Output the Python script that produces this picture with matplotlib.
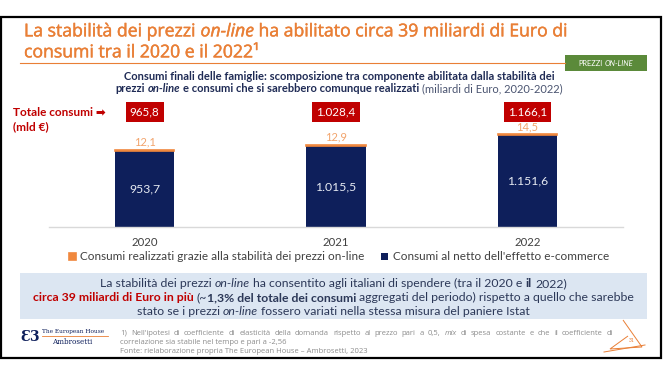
import matplotlib
matplotlib.use("Agg")
import matplotlib.pyplot as plt
from matplotlib.patches import Rectangle, Polygon
from matplotlib.lines import Line2D
import matplotlib.patheffects as pe
import numpy as np

# ---------------- data ----------------
years = ["2020", "2021", "2022"]
base_values = [953.7, 1015.5, 1151.6]      # Consumi al netto dell'effetto e-commerce
online_values = [12.1, 12.9, 14.5]         # Consumi realizzati grazie alla stabilità dei prezzi on-line
total_values = [965.8, 1028.4, 1166.1]     # Totale consumi (mld €)

series_names = ["Consumi realizzati grazie alla stabilità dei prezzi on-line",
                "Consumi al netto dell'effetto e-commerce"]

# ---------------- style ----------------
W, H = 670, 377
ORANGE_T = "#E97F36"
ORANGE_BAR = "#F0883E"
ORANGE_LBL = "#F2A46C"
NAVY = "#0E1F5B"
NAVY_TXT = "#1F2B55"
RED = "#C00000"
GREEN = "#5B8A3A"
GRAY = "#404040"
FONT = "Lato"
TFONT = "Open Sans"

plt.rcParams["font.family"] = [FONT, "DejaVu Sans"]

fig = plt.figure(figsize=(W / 100, H / 100), dpi=100)
fig.patch.set_facecolor("white")


def fx(x):
    return x / W


def fy(y):
    return 1 - y / H


renderer = fig.canvas.get_renderer()


def twidth(s, size, weight="normal", style="normal", family=FONT):
    t = fig.text(0, 0, s, fontsize=size, fontweight=weight, fontstyle=style, family=family)
    w = t.get_window_extent(renderer).width
    t.remove()
    return w


def base_y(yc, size):
    # convert a visual centre (px) into a baseline position (px)
    return yc + 0.36 * size * 100 / 72


def rich_line(parts, xc, y, size, family=FONT, ha="center", effects=None):
    """parts: list of (text, color, weight, style)"""
    items = []
    total = 0
    for text, color, weight, style in parts:
        lead = len(text) - len(text.lstrip(" "))
        trail = len(text) - len(text.rstrip(" "))
        core = text.strip(" ")
        sp = twidth("a a", size, weight, style, family) - twidth("aa", size, weight, style, family)
        wcore = twidth(core, size, weight, style, family) if core else 0
        items.append((total + lead * sp, core, color, weight, style))
        total += lead * sp + wcore + trail * sp
    x0 = xc - total / 2 if ha == "center" else xc
    yb = base_y(y, size)
    for off, core, color, weight, style in items:
        if core:
            t = fig.text(fx(x0 + off), fy(yb), core, fontsize=size, fontweight=weight,
                         fontstyle=style, color=color, family=family, va="baseline", ha="left")
            if effects:
                t.set_path_effects(effects)


def justified_line(words, x0, x1, y, size, color, family=FONT):
    """words: list of (word, style)"""
    widths = [twidth(w, size, "normal", st, family) for w, st in words]
    gap = (x1 - x0 - sum(widths)) / (len(words) - 1)
    x = x0
    yb = base_y(y, size)
    for (w, st), wd in zip(words, widths):
        fig.text(fx(x), fy(yb), w, fontsize=size, fontstyle=st, color=color, family=family,
                 va="baseline", ha="left")
        x += wd + gap


# ---------------- frame ----------------
fig.add_artist(Rectangle((fx(1), fy(358)), fx(661) - fx(1), fy(17) - fy(358),
                         transform=fig.transFigure, fill=False, edgecolor="black", lw=1.6))

# ---------------- title ----------------
teff = [pe.withStroke(linewidth=0.3, foreground=ORANGE_T)]
TS = 12.7
rich_line([("La stabilità dei prezzi ", ORANGE_T, "normal", "normal"),
           ("on-line", ORANGE_T, "normal", "italic"),
           (" ha abilitato circa 39 miliardi di Euro di", ORANGE_T, "normal", "normal")],
          24, 30, TS, family=TFONT, ha="left", effects=teff)
rich_line([("consumi tra il 2020 e il 2022¹", ORANGE_T, "normal", "normal")],
          24, 51, TS, family=TFONT, ha="left", effects=teff)
fig.add_artist(Line2D([fx(20), fx(565)], [fy(63), fy(63)], transform=fig.transFigure,
                      color=ORANGE_T, lw=0.8))
fig.add_artist(Rectangle((fx(565), fy(71)), fx(647) - fx(565), fy(55) - fy(71),
                         transform=fig.transFigure, facecolor=GREEN, edgecolor="none"))
rich_line([("PREZZI ", "white", "normal", "normal"), ("ON-LINE", "white", "normal", "italic")],
          606, 63.5, 5.4)

# ---------------- subtitle ----------------
SS = 8.0
rich_line([("Consumi finali delle famiglie: scomposizione tra componente abilitata dalla stabilità dei",
            NAVY_TXT, "bold", "normal")], 339, 76, SS)
rich_line([("prezzi ", NAVY_TXT, "bold", "normal"),
           ("on-line", NAVY_TXT, "bold", "italic"),
           (" e consumi che si sarebbero comunque realizzati", NAVY_TXT, "bold", "normal"),
           (" (miliardi di Euro, 2020-2022)", "#4A5470", "normal", "normal")], 339, 88, SS)

# ---------------- chart ----------------
ax = fig.add_axes([fx(49), fy(227), (574) / W, 132 / H])
x = np.arange(len(years))
px_per_unit = 0.0797
ax.set_xlim(-0.5, 2.5)
ax.set_ylim(0, 132 / px_per_unit)
bw = 0.31
b1 = ax.bar(x, base_values, width=bw, color=NAVY, label=series_names[1], zorder=2)
b2 = ax.bar(x, online_values, bottom=base_values, width=bw, color=ORANGE_BAR,
            edgecolor=ORANGE_BAR, linewidth=1.2, label=series_names[0], zorder=2)


def it_fmt(v):
    s = f"{v:,.1f}"
    return s.replace(",", "X").replace(".", ",").replace("X", ".")


for i in range(len(years)):
    ax.text(x[i], base_values[i] / 2, it_fmt(base_values[i]), ha="center", va="center",
            color="#E6EAF2", fontsize=8.8)
    ax.annotate(it_fmt(online_values[i]), (x[i], total_values[i]), xytext=(0, 5.5),
                textcoords="offset points", ha="center", va="center", color=ORANGE_LBL, fontsize=8.0)
    ax.text(x[i], 0.872, it_fmt(total_values[i]), transform=ax.get_xaxis_transform(),
            ha="center", va="center", color="white", fontsize=8.4,
            bbox=dict(boxstyle="square,pad=0.36", facecolor=RED, edgecolor="none"))

for s in ["top", "left", "right"]:
    ax.spines[s].set_visible(False)
ax.spines["bottom"].set_color("#D9D9D9")
ax.spines["bottom"].set_linewidth(1.0)
ax.set_yticks([])
ax.set_xticks(x, years)
ax.tick_params(axis="x", length=0, pad=7.5, labelsize=8.2, labelcolor=GRAY)
ax.patch.set_alpha(0)

leg = fig.legend(handles=[b2, b1], labels=series_names, loc="center",
                 bbox_to_anchor=(fx(339), fy(257)), ncol=2, frameon=False,
                 fontsize=8.5, handlelength=0.6, handleheight=0.6, handletextpad=0.35,
                 columnspacing=1.4, borderpad=0, labelcolor=GRAY)

fig.text(fx(13), fy(113), "Totale consumi ➡", color=RED, fontsize=8.5, fontweight="bold",
         va="center", ha="left")
fig.text(fx(13), fy(127), "(mld €)", color=RED, fontsize=8.5, fontweight="bold", va="center", ha="left")

# ---------------- message box ----------------
fig.add_artist(Rectangle((fx(20), fy(319)), fx(647) - fx(20), fy(273) - fy(319),
                         transform=fig.transFigure, facecolor="#DCE6F2", edgecolor="none"))
BOX = "#2C3858"
BS = 8.8
rich_line([("La stabilità dei prezzi ", BOX, "normal", "normal"),
           ("on-line", BOX, "normal", "italic"),
           (" ha consentito agli italiani di spendere (tra il 2020 e ", BOX, "normal", "normal"),
           ("il", BOX, "bold", "normal"),
           (" 2022)", BOX, "normal", "normal")], 333.5, 283, BS)
rich_line([("circa 39 miliardi di Euro in più", RED, "bold", "normal"),
           (" (~", BOX, "normal", "normal"),
           ("1,3% del totale dei consumi", BOX, "bold", "normal"),
           (" aggregati del periodo) rispetto a quello che sarebbe", BOX, "normal", "normal")],
          333.5, 297, BS)
rich_line([("stato se i prezzi ", BOX, "normal", "normal"),
           ("on-line", BOX, "normal", "italic"),
           (" fossero variati nella stessa misura del paniere Istat", BOX, "normal", "normal")],
          333.5, 311, BS)

# ---------------- footer ----------------
fig.text(fx(20), fy(337), "Ɛ3", family="DejaVu Serif", fontweight="bold", fontsize=10,
         color=NAVY, va="center", ha="left")
fig.text(fx(42), fy(331), "The European House", family="DejaVu Serif", fontsize=4.2,
         color=NAVY, va="center", ha="left")
fig.add_artist(Line2D([fx(42), fx(108)], [fy(336), fy(336)], transform=fig.transFigure,
                      color=ORANGE_T, lw=0.6))
fig.text(fx(52), fy(342), "Ambrosetti", family="DejaVu Serif", fontsize=5.2,
         color=NAVY, va="center", ha="left")

FOOT = "#8C8C8C"
FS = 5.5
FF = "Open Sans"
foot1 = ("1) Nell'ipotesi di coefficiente di elasticità della domanda rispetto al prezzo pari a 0,5, "
         "mix di spesa costante e che il coefficiente di").split(" ")
justified_line([(w, "italic" if w == "mix" else "normal") for w in foot1], 120, 613, 332, FS, FOOT,
               family=FF)
fig.text(fx(120), fy(base_y(341, FS)), "correlazione sia stabile nel tempo e pari a -2,56", fontsize=FS,
         color=FOOT, va="baseline", ha="left", family=FF)
fig.text(fx(120), fy(base_y(350, FS)), "Fonte: rielaborazione propria The European House – Ambrosetti, 2023",
         fontsize=FS, color=FOOT, va="baseline", ha="left", family=FF)

# sail logo
sail = [(fx(623), fy(320)), (fx(642), fy(347)), (fx(610), fy(349)), (fx(628), fy(336))]
fig.add_artist(Polygon(sail, closed=False, fill=False, edgecolor=ORANGE_T, lw=0.7,
                       transform=fig.transFigure))
fig.add_artist(Line2D([fx(604), fx(645)], [fy(352), fy(345)], transform=fig.transFigure,
                      color=ORANGE_T, lw=0.7))
fig.text(fx(632), fy(340), "31", fontsize=3.5, color=ORANGE_T, ha="center", va="center")

fig.savefig("out.png", dpi=100, facecolor="white")
